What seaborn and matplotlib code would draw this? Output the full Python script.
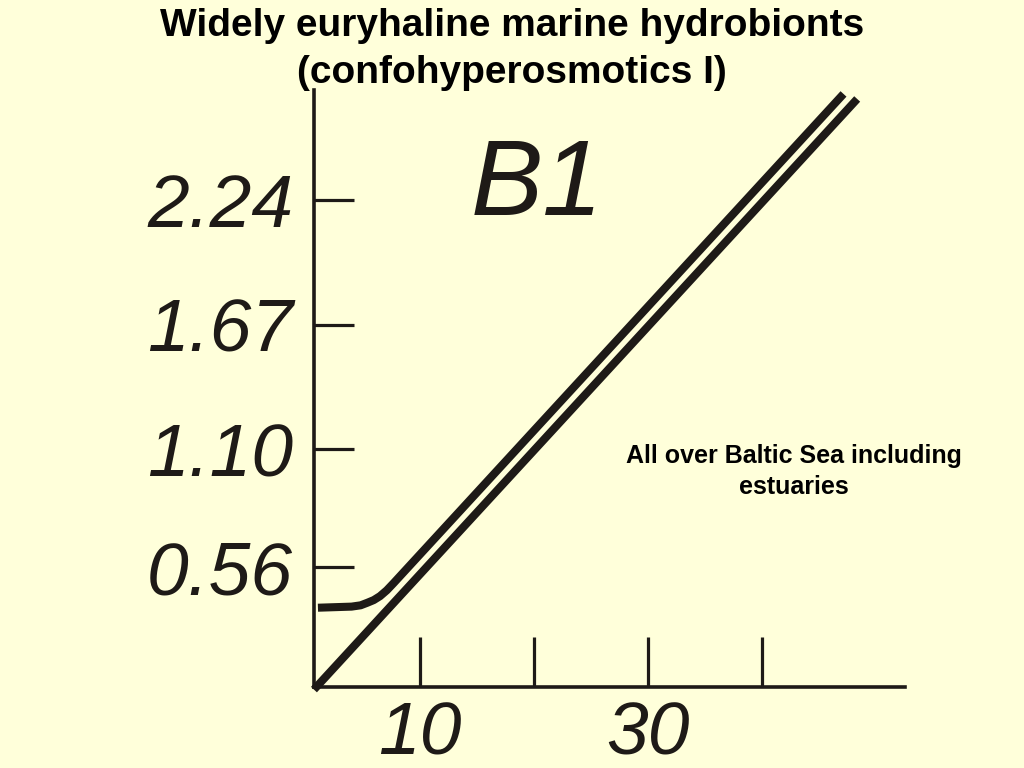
import seaborn as sns
import matplotlib.pyplot as plt
import pandas as pd
import numpy as np

# salinity (x) vs osmotic value (y)
straight_x = [0.7, 48.4]
straight_y = [0.0, 2.705]
organism_x = [1.05, 4.0, 4.8, 5.4, 5.95, 6.5, 7.1, 7.7, 47.2]
organism_y = [0.375, 0.38, 0.386, 0.398, 0.41, 0.428, 0.455, 0.488, 2.728]

x_ticks = [10, 20, 30, 40]
x_tick_labels = ['10', '', '30', '']
y_ticks = [0.56, 1.10, 1.67, 2.24]
y_tick_labels = ['0.56', '1.10', '1.67', '2.24']

bg = '#ffffda'
ink = '#1e1a17'

sns.set_style('white', {'axes.facecolor': bg, 'figure.facecolor': bg})
plt.rcParams['font.family'] = ['Liberation Sans', 'DejaVu Sans']

fig = plt.figure(figsize=(10.24, 7.68), dpi=100)
ax = fig.add_axes([0.3066, 0.1055, 0.5772, 0.7773])

df_a = pd.DataFrame({'x': straight_x, 'y': straight_y})
df_b = pd.DataFrame({'x': organism_x, 'y': organism_y})
sns.lineplot(data=df_a, x='x', y='y', ax=ax, color=ink, linewidth=5.8,
             sort=False, solid_capstyle='butt', clip_on=False)
sns.lineplot(data=df_b, x='x', y='y', ax=ax, color=ink, linewidth=5.8,
             sort=False, solid_capstyle='butt', solid_joinstyle='round',
             clip_on=False)

ax.set_xlim(0.7, 52.6)
ax.set_ylim(0.012, 2.746)

for side in ['top', 'right']:
    ax.spines[side].set_visible(False)
for side in ['left', 'bottom']:
    ax.spines[side].set_linewidth(2.6)
    ax.spines[side].set_color(ink)

ax.set_xticks(x_ticks)
ax.set_xticklabels(x_tick_labels)
ax.set_yticks(y_ticks)
ax.set_yticklabels(y_tick_labels)
ax.tick_params(axis='y', left=True, direction='in', length=29, width=2.3,
               color=ink, pad=15, labelsize=54, labelcolor=ink)
ax.tick_params(axis='x', bottom=True, direction='in', length=36, width=2.3,
               color=ink, pad=10, labelsize=54, labelcolor=ink)
for lab in ax.get_xticklabels() + ax.get_yticklabels():
    lab.set_fontstyle('italic')
ax.set_xlabel('')
ax.set_ylabel('')

fig.text(0.5, 0.99, 'Widely euryhaline marine hydrobionts\n(confohyperosmotics I)',
         ha='center', va='top', fontsize=28, fontweight='bold', color='black',
         linespacing=1.4)
fig.text(0.524, 0.72, 'B1', ha='center', va='baseline', fontsize=78,
         fontstyle='italic', color=ink)
fig.text(0.775, 0.386, 'All over Baltic Sea including\nestuaries', ha='center',
         va='center', fontsize=18, fontweight='bold', color='black',
         linespacing=1.38)

plt.savefig('out.png', dpi=100, facecolor=bg)
